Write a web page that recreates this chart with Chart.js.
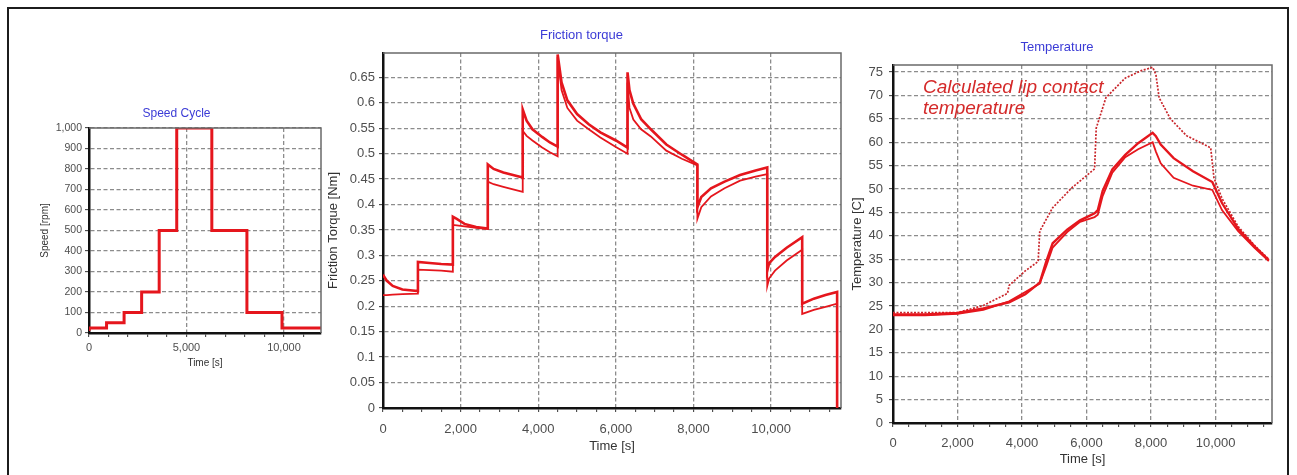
<!DOCTYPE html>
<html>
<head>
<meta charset="utf-8">
<script src="https://cdn.jsdelivr.net/npm/chart.js@4.4.0/dist/chart.umd.min.js"></script>
<style>
  html, body { margin: 0; padding: 0; background: #fff; }
  body { width: 1297px; height: 475px; position: relative; overflow: hidden; }
  #frame { position: absolute; left: 7px; top: 7px; width: 1278px; height: 480px; border: 2px solid #1c1c1c; border-bottom: none; }
  canvas { position: absolute; }
</style>
</head>
<body>
<div id="frame"></div>
<canvas id="speedChart" width="290" height="271" style="left:32px;top:102px"></canvas>
<canvas id="torqueChart" width="521" height="438" style="left:322px;top:20px"></canvas>
<canvas id="tempChart" width="432" height="441" style="left:842px;top:32px"></canvas>
<script>
// Speed cycle: speed held from each start time until the next one
const speedTime = [0, 900, 1800, 2700, 3600, 4500, 6300, 8100, 9900, 10800, 11900];
const speedRpm  = [10, 25, 50, 100, 200, 500, 1000, 500, 100, 25, 25];

// Friction torque, two runs sampled at the same times
const torqueTime = [
  0, 100, 250, 500, 900,
  900, 1200, 1500, 1800,
  1800, 1900, 2100, 2400, 2700,
  2700, 2850, 3100, 3350, 3600,
  3600, 3700, 3850, 4100, 4300, 4500,
  4500, 4600, 4750, 5000, 5300, 5600, 6000, 6300,
  6300, 6350, 6450, 6650, 6900, 7300, 7700, 8100,
  8100, 8200, 8450, 8800, 9200, 9600, 9900,
  9900, 9950, 10100, 10400, 10800,
  10800, 11100, 11400, 11700, 11700
];
const torqueUpper = [
  0.262, 0.250, 0.240, 0.233, 0.230,
  0.287, 0.285, 0.283, 0.282,
  0.376, 0.372, 0.362, 0.356, 0.353,
  0.479, 0.470, 0.463, 0.458, 0.453,
  0.587, 0.565, 0.548, 0.533, 0.522, 0.514,
  0.695, 0.640, 0.605, 0.578, 0.558, 0.542, 0.526, 0.512,
  0.660, 0.625, 0.598, 0.568, 0.548, 0.518, 0.498, 0.479,
  0.395, 0.415, 0.432, 0.445, 0.458, 0.467, 0.473,
  0.270, 0.285, 0.297, 0.315, 0.336,
  0.205, 0.215, 0.222, 0.228, 0
];
const torqueLower = [
  0.222, 0.222, 0.223, 0.224, 0.225,
  0.272, 0.271, 0.270, 0.268,
  0.360, 0.359, 0.357, 0.354, 0.352,
  0.445, 0.440, 0.435, 0.430, 0.425,
  0.545, 0.535, 0.526, 0.512, 0.503, 0.495,
  0.690, 0.625, 0.590, 0.565, 0.548, 0.532, 0.513, 0.500,
  0.640, 0.590, 0.567, 0.548, 0.534, 0.506, 0.490, 0.477,
  0.372, 0.395, 0.416, 0.432, 0.447, 0.455, 0.460,
  0.240, 0.255, 0.270, 0.290, 0.311,
  0.185, 0.193, 0.199, 0.205, 0
];

// Measured temperatures
const tempTime = [0, 1000, 2000, 2800, 3600, 4100, 4550, 4750, 4950, 5400, 5800, 6250, 6350, 6500,
                  6800, 7200, 7600, 8050, 8150, 8300, 8700, 9300, 9900, 10200, 10700, 11200, 11650];
const tempA = [23.2, 23.2, 23.5, 24.5, 25.8, 27.5, 30.0, 34.5, 38.4, 41.3, 43.3, 44.8, 45.5, 49.6,
               54.2, 57.3, 59.8, 62.0, 61.3, 59.5, 56.6, 53.8, 51.5, 47.0, 41.5, 37.8, 34.8];
const tempB = [23.0, 23.0, 23.3, 24.2, 26.0, 28.0, 29.8, 33.5, 37.5, 40.8, 43.0, 44.0, 44.5, 48.5,
               53.5, 56.8, 58.5, 60.0, 58.0, 55.5, 52.4, 50.7, 49.8, 45.5, 41.0, 37.5, 34.6];

// Calculated lip contact temperature
const calcTime = [0, 1000, 2000, 2800, 3550, 3600, 4100, 4500, 4550, 4950, 5550, 6250, 6300, 6600,
                  7200, 7700, 8050, 8150, 8250, 8600, 9100, 9850, 9950, 10200, 10700, 11200, 11650];
const tempCalc = [23.6, 23.6, 23.6, 25.1, 27.7, 29.4, 32.5, 34.5, 41.0, 46.0, 50.3, 54.3, 63.0, 69.5,
                  73.7, 75.3, 76.0, 74.5, 69.5, 65.0, 61.4, 58.8, 52.4, 48.0, 42.0, 38.0, 35.0];

const RED = '#e5161d';
const FONT = '"Liberation Sans", Arial, sans-serif';
Chart.defaults.font.family = FONT;
Chart.defaults.animation = false;

const pts = (xs, ys) => xs.map((x, i) => ({ x: x, y: ys[i] }));
const fmt = v => (+v.toFixed(2)).toLocaleString('en-US');

// thin gray frame on the top and right edges of the plot area
const plotFrame = {
  id: 'plotFrame',
  afterDraw(chart) {
    const { ctx, chartArea: a } = chart;
    ctx.save();
    ctx.strokeStyle = '#6a6a6a';
    ctx.lineWidth = 1.5;
    ctx.beginPath();
    ctx.moveTo(a.left, a.top);
    ctx.lineTo(a.right, a.top);
    ctx.lineTo(a.right, a.bottom);
    ctx.stroke();
    ctx.restore();
  }
};

// free text placed at data coordinates
const noteLabel = {
  id: 'noteLabel',
  afterDatasetsDraw(chart, args, opts) {
    if (!opts.lines) return;
    const { ctx, scales: { x, y } } = chart;
    ctx.save();
    ctx.font = 'italic 19px ' + FONT;
    ctx.fillStyle = '#d42a2a';
    opts.lines.forEach((s, i) => ctx.fillText(s, x.getPixelForValue(opts.x), y.getPixelForValue(opts.y) + i * 21));
    ctx.restore();
  }
};

// time axis: minor tick every o.minor, label and grid line every o.major
function xAxis(o) {
  return {
    type: 'linear', min: 0, max: o.max,
    afterFit: s => { s.height = o.height; },
    afterBuildTicks: s => {
      const ticks = [];
      for (let v = 0; v <= o.max; v += o.minor) ticks.push({ value: v });
      s.ticks = ticks;
    },
    border: { color: '#111', width: 2.5, dash: [4, 2.5] },
    grid: {
      color: c => c.tick && c.tick.value % o.major === 0 ? '#8c8c8c' : 'transparent',
      lineWidth: 1.3, tickLength: 4, tickColor: '#333', tickWidth: 1
    },
    ticks: {
      autoSkip: false, maxRotation: 0,
      padding: o.tickPad, color: '#4e4e4e', font: { size: o.tickSize },
      callback: v => v % o.major === 0 ? fmt(v) : ''
    },
    title: { display: true, text: 'Time [s]', color: '#333', font: { size: o.titleSize }, padding: { top: 0, bottom: o.titlePad } }
  };
}

function yAxis(o) {
  return {
    min: 0, max: o.max,
    afterFit: s => { s.width = o.width; },
    border: { color: '#111', width: 2.5, dash: [4, 2.5] },
    grid: { color: '#8c8c8c', lineWidth: 1.3, tickLength: 4, tickColor: '#333', tickWidth: 1 },
    ticks: {
      stepSize: o.step, includeBounds: false, padding: o.tickPad,
      color: '#4e4e4e', font: { size: o.tickSize }, callback: fmt
    },
    title: { display: true, text: o.title, color: '#333', font: { size: o.titleSize }, padding: { top: o.titlePad, bottom: 0 } }
  };
}

function titleOpts(text, size, top, bottom) {
  return { display: true, text: text, color: '#3b3bd6', font: { size: size, weight: 'normal' }, padding: { top: top, bottom: bottom } };
}

// Speed Cycle
new Chart(document.getElementById('speedChart').getContext('2d'), {
  type: 'line',
  data: {
    datasets: [{
      data: pts(speedTime, speedRpm), stepped: 'after',
      borderColor: RED, borderWidth: 3, pointRadius: 0
    }]
  },
  options: {
    responsive: false, devicePixelRatio: 1,
    layout: { padding: { left: 0, right: 1, top: 0, bottom: 0 } },
    plugins: { legend: { display: false }, tooltip: { enabled: false }, title: titleOpts('Speed Cycle', 12, 4, 7.6) },
    scales: {
      x: xAxis({ max: 11900, minor: 1000, major: 5000, height: 40, tickPad: 4, tickSize: 11, titleSize: 10, titlePad: 4 }),
      y: yAxis({ max: 1000, step: 100, width: 57, tickPad: 3, tickSize: 10.5, title: 'Speed [rpm]', titleSize: 10, titlePad: 7 })
    }
  },
  plugins: [plotFrame]
});

// Friction torque
new Chart(document.getElementById('torqueChart').getContext('2d'), {
  type: 'line',
  data: {
    datasets: [
      { data: pts(torqueTime, torqueUpper), borderColor: RED, borderWidth: 2.6, pointRadius: 0 },
      { data: pts(torqueTime, torqueLower), borderColor: RED, borderWidth: 1.8, pointRadius: 0 }
    ]
  },
  options: {
    responsive: false, devicePixelRatio: 1,
    layout: { padding: { left: 0, right: 2, top: 0, bottom: 0 } },
    plugins: { legend: { display: false }, tooltip: { enabled: false }, title: titleOpts('Friction torque', 13, 7.2, 10.2) },
    scales: {
      x: xAxis({ max: 11800, minor: 500, major: 2000, height: 50, tickPad: 10, tickSize: 13, titleSize: 13, titlePad: 4.2 }),
      y: yAxis({ max: 0.698, step: 0.05, width: 61, tickPad: 4, tickSize: 13, title: 'Friction Torque [Nm]', titleSize: 13, titlePad: 3.2 })
    }
  },
  plugins: [plotFrame]
});

// Temperature
new Chart(document.getElementById('tempChart').getContext('2d'), {
  type: 'line',
  data: {
    datasets: [
      { data: pts(tempTime, tempA), borderColor: RED, borderWidth: 2.4, pointRadius: 0 },
      { data: pts(tempTime, tempB), borderColor: RED, borderWidth: 1.8, pointRadius: 0 },
      { data: pts(calcTime, tempCalc), borderColor: '#c9262b', borderWidth: 1.7, borderDash: [2, 1.5], pointRadius: 0 }
    ]
  },
  options: {
    responsive: false, devicePixelRatio: 1,
    layout: { padding: { left: 0, right: 2, top: 0, bottom: 0 } },
    plugins: {
      legend: { display: false }, tooltip: { enabled: false },
      title: titleOpts('Temperature', 13, 7.2, 10.2),
      noteLabel: { x: 930, y: 70.5, lines: ['Calculated lip contact', 'temperature'] }
    },
    scales: {
      x: xAxis({ max: 11750, minor: 500, major: 2000, height: 50, tickPad: 9, tickSize: 13, titleSize: 13, titlePad: 6.2 }),
      y: yAxis({ max: 76.5, step: 5, width: 51, tickPad: 6, tickSize: 13, title: 'Temperature [C]', titleSize: 13, titlePad: 7.2 })
    }
  },
  plugins: [plotFrame, noteLabel]
});
</script>
</body>
</html>
